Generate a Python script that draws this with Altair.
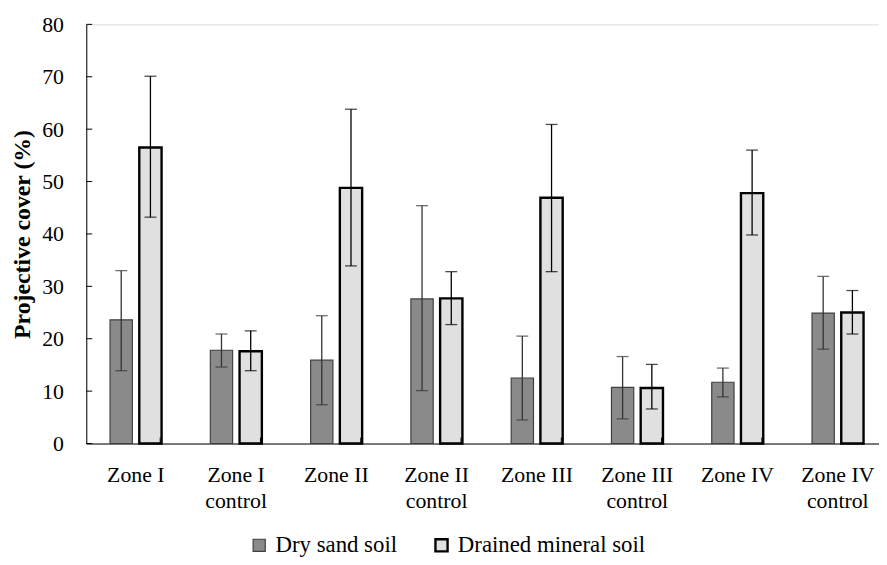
import altair as alt
import pandas as pd

categories = ["Zone I", "Zone I control", "Zone II", "Zone II control",
              "Zone III", "Zone III control", "Zone IV", "Zone IV control"]
series = ["Dry sand soil", "Drained mineral soil"]

dry_mean = [23.6, 17.8, 15.9, 27.6, 12.5, 10.7, 11.7, 24.9]
dry_low = [13.9, 14.6, 7.4, 10.1, 4.5, 4.7, 8.9, 18.0]
dry_high = [33.0, 20.9, 24.4, 45.4, 20.5, 16.6, 14.4, 31.9]

drained_mean = [56.5, 17.6, 48.8, 27.7, 46.9, 10.6, 47.8, 25.0]
drained_low = [43.2, 13.9, 33.9, 22.7, 32.8, 6.6, 39.8, 20.9]
drained_high = [70.1, 21.5, 63.8, 32.8, 60.9, 15.1, 56.0, 29.2]

y_ticks = [0, 10, 20, 30, 40, 50, 60, 70, 80]

rows = []
for i, c in enumerate(categories):
    rows.append(dict(cat=c, series=series[0], v=dry_mean[i], lo=dry_low[i], hi=dry_high[i]))
    rows.append(dict(cat=c, series=series[1], v=drained_mean[i], lo=drained_low[i], hi=drained_high[i]))
df = pd.DataFrame(rows)
tick_df = pd.DataFrame({"t": y_ticks})
xt_df = pd.DataFrame({"cat": categories[1:]})

W, H = 800, 423
FONT = "Liberation Serif"

# band layout: the last category runs past the right edge, as in the reference
x_scale = alt.Scale(domain=categories, paddingInner=0.4862, paddingOuter=0.1956, align=0.606)
y_scale = alt.Scale(domain=[0, 80], nice=False)
off_scale = alt.Scale(domain=series, paddingInner=0.237, paddingOuter=0)

label_expr = ("indexof(datum.label, ' control') > 0 ? "
              "[replace(datum.label, ' control', ''), 'control'] : datum.label")

x_enc = alt.X("cat:N", scale=x_scale, sort=categories,
              axis=alt.Axis(title=None, ticks=False, tickSize=0, labelAngle=0,
                            labelFont=FONT, labelFontSize=22, labelColor="#000",
                            labelPadding=21, labelLineHeight=27,
                            labelExpr=label_expr, domainColor="#000", domainWidth=1))
y_enc = alt.Y("v:Q", scale=y_scale,
              axis=alt.Axis(values=y_ticks, ticks=False, tickSize=0, grid=False,
                            labelFont=FONT, labelFontSize=22, labelColor="#000",
                            labelPadding=23, domainColor="#000", domainWidth=1,
                            title="Projective cover (%)", titleFont=FONT,
                            titleFontSize=24, titleFontWeight="bold",
                            titleColor="#000", titlePadding=7))

legend = alt.Legend(title=None, orient="none", legendX=163, legendY=514,
                    direction="horizontal", symbolType="square", symbolSize=150,
                    labelFont=FONT, labelFontSize=23, labelColor="#000",
                    labelLimit=0, labelOffset=5, columnPadding=33, padding=0)

bars = alt.Chart(df).mark_bar().encode(
    x=x_enc,
    xOffset=alt.XOffset("series:N", scale=off_scale, sort=series),
    y=y_enc,
    fill=alt.Fill("series:N", sort=series,
                  scale=alt.Scale(domain=series, range=["#8a8a8a", "#e0e0e0"]),
                  legend=legend),
    stroke=alt.Stroke("series:N", sort=series,
                      scale=alt.Scale(domain=series, range=["#404040", "#000000"]),
                      legend=legend),
    strokeWidth=alt.StrokeWidth("series:N", sort=series,
                                scale=alt.Scale(domain=series, range=[1.2, 2.4]),
                                legend=legend),
)

err_color = alt.Color("series:N", sort=series,
                      scale=alt.Scale(domain=series, range=["#333333", "#000000"]),
                      legend=None)

err_line = alt.Chart(df).mark_rule(strokeWidth=1.3).encode(
    x=alt.X("cat:N", scale=x_scale, sort=categories),
    xOffset=alt.XOffset("series:N", scale=off_scale, sort=series),
    y=alt.Y("lo:Q", scale=y_scale),
    y2="hi:Q",
    color=err_color,
)
cap_hi = alt.Chart(df).mark_tick(thickness=1.3, size=12).encode(
    x=alt.X("cat:N", scale=x_scale, sort=categories),
    xOffset=alt.XOffset("series:N", scale=off_scale, sort=series),
    y=alt.Y("hi:Q", scale=y_scale),
    color=err_color,
)
cap_lo = alt.Chart(df).mark_tick(thickness=1.3, size=12).encode(
    x=alt.X("cat:N", scale=x_scale, sort=categories),
    xOffset=alt.XOffset("series:N", scale=off_scale, sort=series),
    y=alt.Y("lo:Q", scale=y_scale),
    color=err_color,
)

y_inner_ticks = alt.Chart(tick_df).mark_rule(color="#000", strokeWidth=1).encode(
    y=alt.Y("t:Q", scale=y_scale),
    x=alt.value(0),
    x2=alt.value(6),
)
x_inner_ticks = alt.Chart(xt_df).mark_rule(color="#000", strokeWidth=1).encode(
    x=alt.X("cat:N", scale=x_scale, sort=categories),
    xOffset=alt.value(-50.6),
    y=alt.value(H),
    y2=alt.value(H - 6),
)

chart = alt.layer(bars, err_line, cap_hi, cap_lo, y_inner_ticks, x_inner_ticks).properties(
    width=W, height=H,
    autosize=alt.AutoSizeParams(type="none"),
    padding={"left": 79, "top": 14, "right": 0, "bottom": 112},
).configure_view(stroke=None).configure_legend(
    labelFont=FONT, labelFontSize=23, labelColor="#000", labelLimit=0
).configure(background="white", font=FONT)

chart.save("out.html", embed_options={"renderer": "svg", "actions": False})
